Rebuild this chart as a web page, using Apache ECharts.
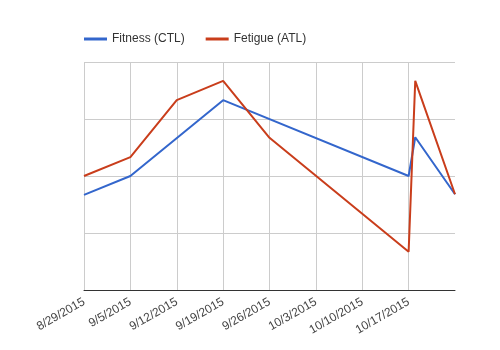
<!DOCTYPE html>
<html>
<head>
<meta charset="utf-8">
<script src="https://cdn.jsdelivr.net/npm/echarts@6/dist/echarts.min.js"></script>
<style>
  html, body { margin: 0; padding: 0; background: #fff; }
  #chart { width: 500px; height: 350px; }
</style>
</head>
<body>
<div id="chart"></div>
<script>
// Training load over time
const startDate = '2015-08-29';
const endDate = '2015-10-24';

const fitnessDates = ['2015-08-29', '2015-09-05', '2015-09-19', '2015-10-17', '2015-10-18', '2015-10-24'];
const fitnessValues = [16.7, 20.0, 33.3, 20.0, 26.8, 16.8];

const fatigueDates = ['2015-08-29', '2015-09-05', '2015-09-12', '2015-09-19', '2015-09-26', '2015-10-17', '2015-10-18', '2015-10-24'];
const fatigueValues = [20.0, 23.3, 33.3, 36.7, 26.7, 6.7, 36.7, 16.8];

const seriesNames = ['Fitness (CTL)', 'Fetigue (ATL)'];

const DAY = 86400000;
const t0 = Date.parse(startDate + 'T00:00:00Z');
const dayIndex = d => Math.round((Date.parse(d + 'T00:00:00Z') - t0) / DAY);
const toPairs = (dates, vals) => dates.map((d, i) => [dayIndex(d), vals[i]]);

function dayLabel(v) {
  const d = new Date(t0 + v * DAY);
  return (d.getUTCMonth() + 1) + '/' + d.getUTCDate() + '/' + d.getUTCFullYear();
}

const chart = echarts.init(document.getElementById('chart'), null, { renderer: 'canvas' });
chart.setOption({
  animation: false,
  textStyle: { fontFamily: 'Liberation Sans, Arial, sans-serif' },
  color: ['#3366cc', '#c93d1b'],
  legend: {
    left: 79,
    top: 28,
    icon: 'rect',
    itemWidth: 23,
    itemHeight: 3,
    itemGap: 21,
    textStyle: { fontSize: 12, color: '#333', fontFamily: 'Liberation Sans, Arial, sans-serif' },
    data: seriesNames
  },
  grid: { left: 84, right: 45, top: 62, bottom: 60, containLabel: false },
  xAxis: {
    type: 'value',
    min: 0,
    max: dayIndex(endDate),
    interval: 7,
    axisLine: { show: true, lineStyle: { color: '#333', width: 1 } },
    axisTick: { show: false },
    splitLine: { show: true, showMaxLine: false, lineStyle: { color: '#ccc', width: 1 } },
    axisLabel: {
      rotate: 30,
      fontSize: 12,
      color: '#444',
      margin: 11,
      showMaxLabel: false,
      formatter: dayLabel
    }
  },
  yAxis: {
    type: 'value',
    min: 0,
    max: 40,
    interval: 10,
    axisLine: { show: false },
    axisTick: { show: false },
    axisLabel: { show: false },
    splitLine: { show: true, lineStyle: { color: '#ccc', width: 1 } }
  },
  series: [
    {
      name: seriesNames[0],
      type: 'line',
      data: toPairs(fitnessDates, fitnessValues),
      showSymbol: false,
      lineStyle: { width: 2 }
    },
    {
      name: seriesNames[1],
      type: 'line',
      data: toPairs(fatigueDates, fatigueValues),
      showSymbol: false,
      lineStyle: { width: 2 }
    }
  ]
});
</script>
</body>
</html>
